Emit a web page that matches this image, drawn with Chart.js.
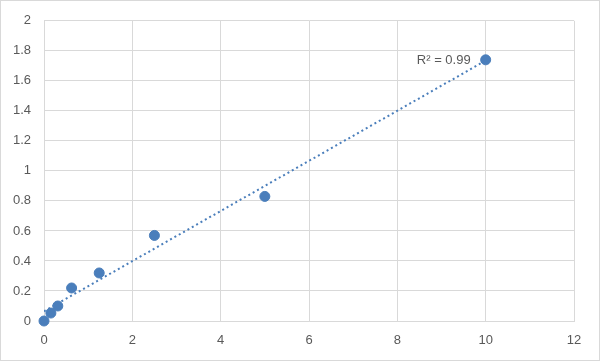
<!DOCTYPE html>
<html>
<head>
<meta charset="utf-8">
<script src="https://cdn.jsdelivr.net/npm/chart.js@4"></script>
<style>
html,body{margin:0;padding:0;background:#fff;}
#wrap{width:600px;height:361px;}
</style>
</head>
<body>
<div id="wrap"><canvas id="c" width="600" height="361"></canvas></div>
<script>
const xValues = [0, 0.156, 0.3125, 0.625, 1.25, 2.5, 5, 10];
const yValues = [0, 0.053, 0.10, 0.22, 0.32, 0.57, 0.83, 1.74];
const xTicks = [0, 2, 4, 6, 8, 10, 12];
const yTicks = [0, 0.2, 0.4, 0.6, 0.8, 1, 1.2, 1.4, 1.6, 1.8, 2];
const r2Label = 'R\u00B2 = 0.99';

// linear least squares trendline
const n = xValues.length;
const mx = xValues.reduce((a,b)=>a+b,0)/n;
const my = yValues.reduce((a,b)=>a+b,0)/n;
let sxx=0, sxy=0;
for (let i=0;i<n;i++){ sxx+=(xValues[i]-mx)**2; sxy+=(xValues[i]-mx)*(yValues[i]-my); }
const slope = sxy/sxx, intercept = my - slope*mx;
const xMin = Math.min(...xValues), xMax = Math.max(...xValues);

const points = xValues.map((x,i)=>({x, y:yValues[i]}));
const trend = [{x:xMin, y:intercept+slope*xMin},{x:xMax, y:intercept+slope*xMax}];

const FONT = '"Liberation Sans", Arial, sans-serif';
const fmt = v => String(Math.round(v*10)/10);

const frame = {
  id:'frame',
  beforeDraw(chart){
    const ctx = chart.ctx;
    ctx.save();
    ctx.fillStyle='#fff';
    ctx.fillRect(0,0,chart.width,chart.height);
    ctx.strokeStyle='#d9d9d9';
    ctx.lineWidth=1;
    ctx.strokeRect(0.5,0.5,chart.width-1,chart.height-1);
    ctx.restore();
  },
  afterDatasetsDraw(chart){
    const ctx = chart.ctx;
    const xs = chart.scales.x, ys = chart.scales.y;
    ctx.save();
    ctx.font = '13px ' + FONT;
    ctx.fillStyle='#595959';
    ctx.textAlign='right';
    ctx.textBaseline='middle';
    ctx.fillText(r2Label, xs.getPixelForValue(xMax)-15, ys.getPixelForValue(yValues[n-1])+1);
    ctx.restore();
  }
};

new Chart(document.getElementById('c'), {
  type:'scatter',
  data:{
    datasets:[
      {
        type:'line',
        data: trend,
        borderColor:'#4a7ebb',
        borderWidth:2,
        borderDash:[2,3],
        pointRadius:0,
        fill:false,
        order:2
      },
      {
        data: points,
        backgroundColor:'#4a7ebb',
        borderColor:'#4a7ebb',
        pointRadius:5,
        pointHoverRadius:5,
        clip:false,
        order:1
      }
    ]
  },
  options:{
    responsive:false,
    animation:false,
    events:[],
    layout:{padding:{left:0, top:19, right:26, bottom:0}},
    plugins:{legend:{display:false}, tooltip:{enabled:false}},
    scales:{
      x:{
        type:'linear', min:0, max:12,
        afterBuildTicks(s){ s.ticks = xTicks.map(v=>({value:v})); },
        afterFit(s){ s.height = 40; },
        grid:{color:'#d9d9d9', lineWidth:1, drawTicks:false},
        border:{color:'#d9d9d9'},
        ticks:{padding:12, color:'#595959', font:{family:FONT, size:13}, maxRotation:0, callback:fmt}
      },
      y:{
        type:'linear', min:0, max:2,
        afterBuildTicks(s){ s.ticks = yTicks.map(v=>({value:v})); },
        afterFit(s){ s.width = 44; },
        grid:{color:'#d9d9d9', lineWidth:1, drawTicks:false},
        border:{color:'#d9d9d9'},
        ticks:{padding:13, color:'#595959', font:{family:FONT, size:13}, callback:fmt}
      }
    }
  },
  plugins:[frame]
});
</script>
</body>
</html>
